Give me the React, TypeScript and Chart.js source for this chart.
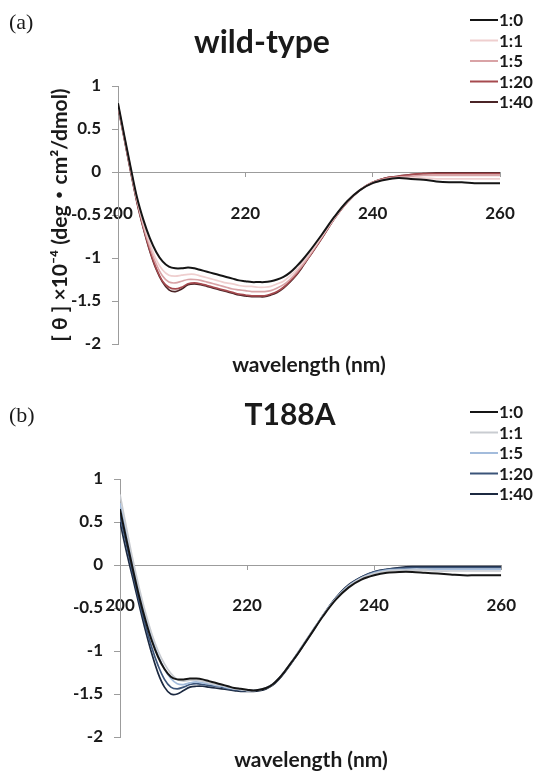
import React, { useEffect, useRef } from "react";
import { Chart, registerables } from "chart.js";

Chart.register(...registerables);

// ---------- data ----------
const wavelengths = [
  200, 201, 202, 203, 204, 205, 206, 207, 208, 209,
  210, 211, 212, 213, 214, 215, 216, 217, 218, 219,
  220, 221, 222, 223, 224, 225, 226, 227, 228, 229,
  230, 232, 234, 236, 238, 240, 242, 244, 246, 248,
  250, 252, 254, 256, 258, 260,
];

const ratioLabels = ["1:0", "1:1", "1:5", "1:20", "1:40"];

const xTickValues = [200, 220, 240, 260];
const yTickValues = [1, 0.5, 0, -0.5, -1, -1.5, -2];

// wild-type
const wt_1_0 = [0.80, 0.42, 0.05, -0.30, -0.56, -0.77, -0.93, -1.04, -1.10, -1.12, -1.12, -1.11, -1.12, -1.14, -1.16, -1.18, -1.20, -1.22, -1.24, -1.26, -1.27, -1.28, -1.28, -1.28, -1.27, -1.25, -1.22, -1.17, -1.10, -1.02, -0.93, -0.73, -0.52, -0.34, -0.21, -0.13, -0.09, -0.07, -0.08, -0.09, -0.11, -0.12, -0.12, -0.13, -0.13, -0.13];
const wt_1_1 = [0.79, 0.41, 0.04, -0.32, -0.60, -0.83, -1.02, -1.14, -1.20, -1.21, -1.20, -1.19, -1.19, -1.21, -1.23, -1.25, -1.27, -1.29, -1.30, -1.32, -1.33, -1.33, -1.34, -1.34, -1.33, -1.30, -1.27, -1.21, -1.14, -1.05, -0.96, -0.75, -0.53, -0.34, -0.21, -0.13, -0.09, -0.07, -0.07, -0.07, -0.08, -0.08, -0.08, -0.08, -0.08, -0.08];
const wt_1_5 = [0.78, 0.40, 0.03, -0.33, -0.63, -0.87, -1.07, -1.21, -1.28, -1.29, -1.27, -1.25, -1.25, -1.26, -1.28, -1.30, -1.32, -1.34, -1.36, -1.37, -1.38, -1.39, -1.39, -1.39, -1.38, -1.35, -1.31, -1.25, -1.17, -1.08, -0.98, -0.76, -0.54, -0.35, -0.21, -0.12, -0.08, -0.06, -0.05, -0.04, -0.04, -0.04, -0.04, -0.04, -0.04, -0.04];
const wt_1_20 = [0.77, 0.39, 0.01, -0.35, -0.65, -0.91, -1.12, -1.27, -1.34, -1.36, -1.34, -1.30, -1.29, -1.30, -1.32, -1.34, -1.36, -1.38, -1.40, -1.42, -1.43, -1.44, -1.44, -1.44, -1.42, -1.39, -1.34, -1.27, -1.19, -1.09, -0.99, -0.77, -0.54, -0.35, -0.21, -0.12, -0.07, -0.05, -0.03, -0.02, -0.02, -0.02, -0.02, -0.02, -0.02, -0.02];
const wt_1_40 = [0.76, 0.38, 0.00, -0.36, -0.66, -0.92, -1.13, -1.28, -1.37, -1.39, -1.36, -1.31, -1.30, -1.31, -1.33, -1.35, -1.37, -1.39, -1.41, -1.43, -1.44, -1.45, -1.45, -1.45, -1.43, -1.40, -1.35, -1.28, -1.20, -1.10, -0.99, -0.77, -0.54, -0.35, -0.21, -0.12, -0.07, -0.05, -0.03, -0.02, -0.01, -0.01, -0.01, -0.01, -0.01, -0.01];

// T188A
const t_1_0 = [0.65, 0.30, -0.04, -0.36, -0.64, -0.88, -1.07, -1.21, -1.30, -1.33, -1.33, -1.32, -1.32, -1.33, -1.35, -1.37, -1.39, -1.41, -1.43, -1.44, -1.45, -1.46, -1.45, -1.43, -1.39, -1.32, -1.23, -1.13, -1.03, -0.92, -0.81, -0.59, -0.40, -0.26, -0.17, -0.12, -0.09, -0.08, -0.08, -0.09, -0.10, -0.11, -0.12, -0.12, -0.12, -0.12];
const t_1_1 = [0.82, 0.44, 0.07, -0.26, -0.55, -0.80, -1.00, -1.15, -1.26, -1.33, -1.35, -1.34, -1.34, -1.35, -1.37, -1.39, -1.40, -1.42, -1.44, -1.45, -1.46, -1.46, -1.45, -1.43, -1.39, -1.32, -1.23, -1.13, -1.02, -0.91, -0.80, -0.58, -0.39, -0.25, -0.15, -0.10, -0.07, -0.06, -0.06, -0.06, -0.07, -0.07, -0.07, -0.07, -0.07, -0.07];
const t_1_5 = [0.72, 0.36, 0.01, -0.31, -0.60, -0.85, -1.05, -1.21, -1.32, -1.38, -1.39, -1.37, -1.36, -1.37, -1.38, -1.40, -1.41, -1.43, -1.44, -1.45, -1.46, -1.46, -1.45, -1.43, -1.39, -1.32, -1.23, -1.13, -1.02, -0.91, -0.80, -0.58, -0.39, -0.24, -0.15, -0.09, -0.06, -0.05, -0.05, -0.05, -0.05, -0.05, -0.05, -0.05, -0.05, -0.05];
const t_1_20 = [0.58, 0.24, -0.09, -0.41, -0.70, -0.96, -1.17, -1.33, -1.42, -1.44, -1.42, -1.39, -1.38, -1.39, -1.40, -1.41, -1.42, -1.44, -1.45, -1.46, -1.46, -1.46, -1.45, -1.43, -1.39, -1.32, -1.23, -1.13, -1.02, -0.91, -0.80, -0.58, -0.38, -0.24, -0.14, -0.08, -0.05, -0.04, -0.03, -0.03, -0.03, -0.03, -0.03, -0.03, -0.03, -0.03];
const t_1_40 = [0.50, 0.16, -0.15, -0.46, -0.76, -1.03, -1.26, -1.42, -1.50, -1.50, -1.46, -1.42, -1.41, -1.41, -1.42, -1.43, -1.44, -1.45, -1.46, -1.47, -1.47, -1.47, -1.46, -1.44, -1.40, -1.33, -1.24, -1.14, -1.03, -0.92, -0.81, -0.58, -0.38, -0.23, -0.14, -0.08, -0.05, -0.03, -0.02, -0.02, -0.02, -0.02, -0.02, -0.02, -0.02, -0.02];

const wtSeries = [wt_1_0, wt_1_1, wt_1_5, wt_1_20, wt_1_40];
const t188Series = [t_1_0, t_1_1, t_1_5, t_1_20, t_1_40];

const wtColors = ["#151515", "#efcfcf", "#d9a3a6", "#a64a4f", "#4a2426"];
const t188Colors = ["#151515", "#c9ccd1", "#a3bcdc", "#3b5479", "#1c2940"];

const FONT = 'Lato, "Noto Sans", "Noto Sans CJK JP", sans-serif';
const TEXT = "#1a1a1a";
const AXIS = "#9c9c9c";

type Area = { left: number; right: number; top: number; bottom: number };

type PanelProps = {
  top: number;
  height: number;
  letter: string;
  letterY: number;
  title: string;
  titleX: number;
  titleY: number;
  titleSize: number;
  series: number[][];
  colors: string[];
  yTitle: string | null;
  area: Area;
  xTitleX: number;
  xTitleY: number;
  legendY0: number;
  xTickPadding: number;
};

function Panel(p: PanelProps) {
  const ref = useRef<HTMLCanvasElement>(null);

  useEffect(() => {
    const canvas = ref.current;
    if (!canvas) return;

    const overlay = {
      id: "overlay",
      afterDraw(chart: any) {
        const ctx = chart.ctx as CanvasRenderingContext2D;
        ctx.save();
        ctx.fillStyle = TEXT;
        ctx.textAlign = "left";
        ctx.textBaseline = "alphabetic";
        ctx.font = '22px "Liberation Serif", "Times New Roman", serif';
        ctx.fillText(p.letter, 9, p.letterY);

        ctx.textAlign = "center";
        ctx.font = "bold " + p.titleSize + "px " + FONT;
        ctx.fillText(p.title, p.titleX, p.titleY);

        ctx.font = "bold 21px " + FONT;
        ctx.textBaseline = "middle";
        ctx.fillText("wavelength (nm)", p.xTitleX, p.xTitleY);

        chart.data.datasets.forEach((ds: any, i: number) => {
          const y = p.legendY0 + i * 20.5;
          ctx.strokeStyle = ds.borderColor;
          ctx.lineWidth = 2;
          ctx.beginPath();
          ctx.moveTo(470, y);
          ctx.lineTo(498, y);
          ctx.stroke();
          ctx.fillStyle = TEXT;
          ctx.textAlign = "left";
          ctx.textBaseline = "middle";
          ctx.font = "bold 17px " + FONT;
          ctx.fillText(ds.label, 499, y + 1);
        });
        ctx.restore();
      },
    };

    const datasets = p.series.map((vals, i) => ({
      label: ratioLabels[i],
      data: wavelengths.map((w, j) => ({ x: w, y: vals[j] })),
      borderColor: p.colors[i],
      backgroundColor: p.colors[i],
      borderWidth: i === 0 ? 2 : 1.7,
      pointRadius: 0,
      tension: 0.35,
      fill: false,
    }));

    const chart = new Chart(canvas, {
      type: "line",
      data: { datasets },
      plugins: [overlay],
      options: {
        animation: false,
        responsive: false,
        maintainAspectRatio: false,
        layout: {
          padding: {
            left: 0,
            top: p.area.top,
            right: 542 - p.area.right,
            bottom: p.height - p.area.bottom,
          },
        },
        plugins: {
          legend: { display: false },
          title: { display: false },
          tooltip: { enabled: false },
        },
        scales: {
          x: {
            type: "linear",
            min: 200,
            max: 260,
            position: { y: 0 } as any,
            afterBuildTicks: (s: any) => {
              s.ticks = xTickValues.map((v) => ({ value: v }));
            },
            ticks: {
              padding: p.xTickPadding,
              color: TEXT,
              font: { family: FONT, size: 17, weight: "bold" },
              maxRotation: 0,
              autoSkip: false,
            },
            grid: {
              display: true,
              drawOnChartArea: false,
              drawTicks: true,
              tickLength: 4,
              color: AXIS,
            },
            border: { display: true, color: AXIS, width: 1 },
          },
          y: {
            type: "linear",
            min: -2,
            max: 1,
            afterBuildTicks: (s: any) => {
              s.ticks = yTickValues.map((v) => ({ value: v }));
            },
            afterFit: (s: any) => {
              s.width = p.area.left;
            },
            ticks: {
              padding: 11,
              color: TEXT,
              font: { family: FONT, size: 17, weight: "bold" },
              callback: (v: any) => String(v),
            },
            grid: {
              display: true,
              drawOnChartArea: false,
              drawTicks: true,
              tickLength: 6,
              color: AXIS,
            },
            border: { display: true, color: AXIS, width: 1 },
            title: {
              display: !!p.yTitle,
              text: p.yTitle || "",
              color: TEXT,
              font: { family: FONT, size: 21, weight: "bold" },
              padding: { top: 48, bottom: 0 },
            },
          },
        },
      },
    });

    return () => chart.destroy();
  }, []);

  return (
    <canvas
      ref={ref}
      width={542}
      height={p.height}
      style={{ position: "absolute", left: 0, top: p.top, width: 542, height: p.height }}
    />
  );
}

export default function App() {
  return (
    <div style={{ position: "fixed", left: 0, top: 0, width: 542, height: 771, background: "#fff" }}>
      <Panel
        top={0}
        height={385}
        letter="(a)"
        letterY={29}
        title="wild-type"
        titleX={262}
        titleY={53}
        titleSize={32}
        series={wtSeries}
        colors={wtColors}
        yTitle="[ θ ] ×10⁻⁴ (deg・cm²/dmol)"
        area={{ left: 118, right: 500, top: 86, bottom: 344 }}
        xTitleX={309}
        xTitleY={365}
        legendY0={20}
        xTickPadding={27}
      />
      <Panel
        top={385}
        height={386}
        letter="(b)"
        letterY={37}
        title="T188A"
        titleX={290}
        titleY={40}
        titleSize={30}
        series={t188Series}
        colors={t188Colors}
        yTitle={null}
        area={{ left: 120, right: 502, top: 94, bottom: 352 }}
        xTitleX={311}
        xTitleY={375}
        legendY0={27}
        xTickPadding={26}
      />
    </div>
  );
}
